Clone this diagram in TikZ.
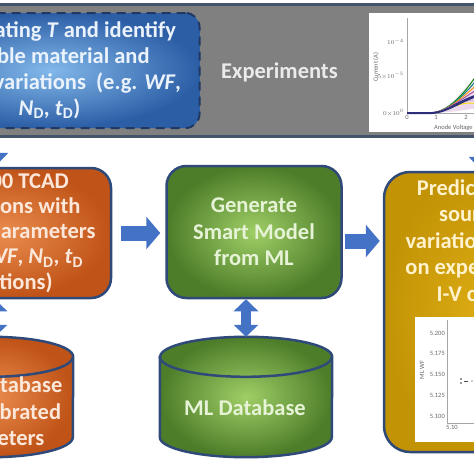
\documentclass[tikz,border=0pt]{standalone}
\usepackage{fontspec}
\setmainfont{Carlito}
\usetikzlibrary{arrows.meta,positioning}
\definecolor{bandgray}{HTML}{808080}
\definecolor{bandline}{HTML}{44546A}
\definecolor{navyline}{HTML}{2F4A78}
\definecolor{bluedark}{HTML}{2C5EA6}
\definecolor{bluelight}{HTML}{82B8EA}
\definecolor{bluedash}{HTML}{1F3864}
\definecolor{orangedark}{HTML}{C05317}
\definecolor{orangelight}{HTML}{EA8C4E}
\definecolor{greendark}{HTML}{4E7D2A}
\definecolor{greenlight}{HTML}{9FCE66}
\definecolor{golddark}{HTML}{C29305}
\definecolor{goldlight}{HTML}{DCAB14}
\definecolor{arrowblue}{HTML}{4472C4}
\definecolor{greentext}{HTML}{E6F3D6}
\definecolor{orangetext}{HTML}{FCE8DA}
\definecolor{goldtext}{HTML}{FFF2CC}
\definecolor{bluetext}{HTML}{EAF2FB}
\definecolor{curvenavy}{HTML}{2B2F7A}

\begin{document}
\begin{tikzpicture}[x=1pt, y=-1pt,
    bigtext/.style={font=\fontsize{22.5}{26.5}\selectfont\bfseries, align=center},
    stepbox/.style={draw=navyline, line width=2.5pt, rounded corners=20pt, bigtext},
    drum/.style={draw=navyline, line width=2.5pt, shade},
    blockarrow/.style={arrowblue, line width=15pt, -{Triangle[width=32pt,length=14pt]}},
    vertarrow/.style={arrowblue, line width=10pt, -{Triangle[width=26pt,length=14pt]}},
    dblarrow/.style={arrowblue, line width=10pt,
                     {Triangle[width=24pt,length=12pt]}-{Triangle[width=24pt,length=12pt]}},
    ticklbl/.style={font=\fontsize{6.5}{7}\selectfont, text=black!60, inner sep=1pt}]
  \useasboundingbox (0,0) rectangle (474,474);
  \fill[white] (0,0) rectangle (474,474);
  \clip (0,0) rectangle (474,474);

  % top band
  \node[fill=bandgray, minimum width=500pt, minimum height=131pt, inner sep=0pt]
    (band) at (237,70.5) {};
  \draw[bandline, line width=3pt] (band.north west) -- (band.north east);
  \draw[bandline, line width=3pt] (band.south west) -- (band.south east);
  \node[stepbox, dashed, dash pattern=on 9pt off 6pt, draw=bluedash, line width=2pt,
        rounded corners=14pt, shade, inner color=bluelight, outer color=bluedark,
        text=bluetext, minimum width=300pt, minimum height=115pt,
        font=\fontsize{22.5}{26}\selectfont\bfseries]
    (invest) at (49.5,70.5) {Investigating \textit{T} and identify\\possible material and\\
      process variations\ \ (e.g. \textit{WF},\\
      \textit{N}\textsubscript{D}, \textit{t}\textsubscript{D})};
  \node[bigtext, text=black!8] (exp) at (279.5,72) {Experiments};

  % I-V plot
  \fill[white] (369,13) rectangle (480,132);
  \draw[black!35, line width=0.5pt] (407,18) -- (407,113) -- (480,113);
  \fill[violet!15] (430,113) .. controls (448,112) and (462,92) .. (480,70)
    -- (480,108) .. controls (462,110) and (448,113) .. (430,113);
  \foreach \c/\e in {green!55!black/70, teal/76, orange!80!yellow/82, violet!70/88,
                     curvenavy/94, violet!35/100, yellow!80!orange/105}
    \draw[\c, line width=0.9pt] (430,113) .. controls (446,112.5) and (462,98) .. (480,\e);
  \draw[curvenavy, line width=2pt] (407,113) -- (432,113)
    .. controls (448,112) and (462,100) .. (480,95);
  \node[ticklbl, anchor=east] (ytopa) at (405,42) {$10^{-4}$};
  \node[ticklbl, anchor=east] (ymida) at (405,76) {$5{\times}10^{-5}$};
  \node[ticklbl, anchor=east] (ybota) at (405,113) {$0{\times}10^{0}$};
  \node[ticklbl, anchor=north] (xzero) at (407,114) {0};
  \node[ticklbl, anchor=north] (xone) at (436,114) {1};
  \node[ticklbl, anchor=north] (xtwo) at (466,114) {2};
  \node[ticklbl, anchor=west] (xlabel) at (433,128) {Anode Voltage (V)};
  \node[ticklbl, rotate=90] (ylabel) at (376,67) {Current (A)};

  % middle row
  \node[stepbox, shade, inner color=orangelight, outer color=orangedark,
        text=orangetext, minimum width=216pt, minimum height=130pt, inner ysep=1pt,
        font=\fontsize{22.5}{25.3}\selectfont\bfseries]
    (tcad) at (3,233) {Run 100 TCAD\\simulations with\\random parameters\\
      (e.g.\quad\textit{WF}, \textit{N}\textsubscript{D}, \textit{t}\textsubscript{D}\\variations)};
  \node[stepbox, shade, inner color=greenlight, outer color=greendark,
        text=greentext, minimum width=175pt, minimum height=132pt]
    (smart) at (254,232) {Generate\\Smart Model\\from ML};
  \node[stepbox, shade, inner color=goldlight, outer color=golddark,
        rounded corners=26pt, minimum width=196pt, minimum height=280pt]
    (predict) at (482,312) {};
  \node[bigtext, text=goldtext, below=5pt of predict.north]
    (predicttxt) {Predicting the\\source of\\variations based\\on experimental\\I-V curves};

  % ML WF plot
  \fill[white] (415,317) rectangle (480,442);
  \draw[black!35, line width=0.5pt] (447,320) -- (447,423) -- (480,423);
  \foreach \v/\y in {5.200/333, 5.175/353, 5.150/374, 5.125/395, 5.100/416}
    \node[ticklbl, anchor=east] (wf\y) at (446,\y) {\v};
  \node[ticklbl, anchor=north] (wfx) at (452,424) {5.10};
  \node[ticklbl, rotate=90] (wflabel) at (422,370) {ML WF};
  \fill[black!80] (461,379) circle (0.9pt) (461,383) circle (0.9pt) (472,381) circle (0.6pt);
  \draw[black!70, line width=0.6pt] (464,381) -- (468,381);

  % databases
  \node[minimum width=172pt, minimum height=120pt, inner sep=0pt] (mldb) at (246,397) {};
  \path[drum, inner color=greenlight, outer color=greendark]
    ([yshift=-20pt]mldb.north west) -- ([yshift=20pt]mldb.south west)
    arc[start angle=180, end angle=360, x radius=86pt, y radius=20pt]
    -- ([yshift=-20pt]mldb.north east)
    arc[start angle=0, end angle=180, x radius=86pt, y radius=20pt] -- cycle;
  \draw[navyline, line width=2.5pt] ([yshift=-20pt]mldb.north west)
    arc[start angle=180, end angle=360, x radius=86pt, y radius=20pt];
  \node[bigtext, text=greentext] (mldbtxt) at (245,408) {ML Database};

  \node[minimum width=164pt, minimum height=120pt, inner sep=0pt] (tcaddb) at (-9,397) {};
  \path[drum, inner color=orangelight, outer color=orangedark]
    ([yshift=-20pt]tcaddb.north west) -- ([yshift=20pt]tcaddb.south west)
    arc[start angle=180, end angle=360, x radius=82pt, y radius=20pt]
    -- ([yshift=-20pt]tcaddb.north east)
    arc[start angle=0, end angle=180, x radius=82pt, y radius=20pt] -- cycle;
  \draw[navyline, line width=2.5pt] ([yshift=-20pt]tcaddb.north west)
    arc[start angle=180, end angle=360, x radius=82pt, y radius=20pt];
  \node[bigtext, text=orangetext] (tcaddbtxt) at (-9,413) {TCAD Database\\with calibrated\\parameters};

  % connectors
  \draw[blockarrow, shorten <=9pt, shorten >=5pt] (tcad.east) -- (tcad.east -| smart.west);
  \draw[blockarrow, shorten <=2pt, shorten >=3pt]
    ([yshift=-9pt]smart.east) -- ([yshift=-9pt]smart.east -| predict.west);
  \draw[dblarrow] (mldb.north) -- (mldb.north |- smart.south);
  \draw[dblarrow] ([xshift=-8pt]tcad.south) -- ([xshift=-8pt]tcad.south |- tcaddb.north);
  \draw[vertarrow] ([xshift=-8pt]tcad.north |- band.south) -- ([xshift=-8pt]tcad.north);
  \draw[vertarrow] (band.south -| predicttxt.center) -- (predicttxt.center |- predict.north);
\end{tikzpicture}
\end{document}
